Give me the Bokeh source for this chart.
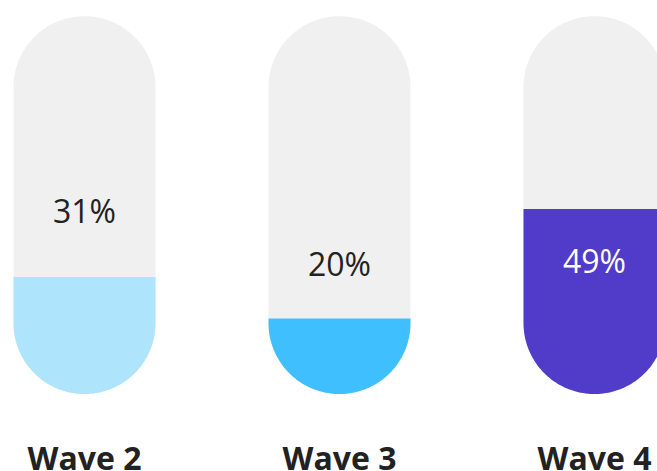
from bokeh.plotting import figure
from bokeh.models import Range1d
from bokeh.core.properties import value
from bokeh.embed import file_html
from bokeh.resources import INLINE
import numpy as np

# Survey waves and the share reported in each
waves = ["Wave 2", "Wave 3", "Wave 4"]
shares = [31, 20, 49]
colors = ["#aee5fd", "#40bfff", "#513bc9"]
label_colors = ["#222222", "#222222", "#ffffff"]

W, H = 657, 471
PX = 100 / 377.8          # data units per pixel (pill height = 100 units)
Y0 = 393.5                # pixel row of the pill bottoms
centers_px = [84.0, 339.0, 594.0]
pill_w = 142 * PX
r = pill_w / 2

p = figure(width=W, height=H, output_backend="svg", toolbar_location=None,
           x_range=Range1d(0, W * PX), y_range=Range1d(-(H - Y0) * PX, Y0 * PX),
           min_border=0)
p.axis.visible = False
p.grid.visible = False
p.outline_line_color = None
p.background_fill_color = "white"
p.border_fill_color = "white"


def capsule(cx, n=90):
    """Outline of a vertical capsule spanning 0..100 centred on cx."""
    t_top = np.linspace(0, np.pi, n)
    t_bot = np.linspace(np.pi, 2 * np.pi, n)
    xs = np.concatenate([cx + r * np.cos(t_top), cx + r * np.cos(t_bot)])
    ys = np.concatenate([100 - r + r * np.sin(t_top), r + r * np.sin(t_bot)])
    return list(xs), list(ys)


def clip_below(xs, ys, level):
    """Keep the part of a polygon lying at or below y = level."""
    out_x, out_y = [], []
    n = len(xs)
    for i in range(n):
        x1, y1 = xs[i], ys[i]
        x2, y2 = xs[(i + 1) % n], ys[(i + 1) % n]
        in1, in2 = y1 <= level, y2 <= level
        if in1:
            out_x.append(x1)
            out_y.append(y1)
        if in1 != in2:
            t = (level - y1) / (y2 - y1)
            out_x.append(x1 + t * (x2 - x1))
            out_y.append(level)
    return out_x, out_y


cxs = [c * PX for c in centers_px]
bg_x, bg_y, fg_x, fg_y = [], [], [], []
for cx, v in zip(cxs, shares):
    xs, ys = capsule(cx)
    bg_x.append(xs)
    bg_y.append(ys)
    cx_, cy_ = clip_below(xs, ys, v)
    fg_x.append(cx_)
    fg_y.append(cy_)

p.patches(bg_x, bg_y, fill_color="#f0f0f0", line_color=None)
p.patches(fg_x, fg_y, fill_color=colors, line_color=None)

# Value labels: above the fill for the shorter bars, inside for the tallest
label_mid_px = [210.2, 262.7, 260.2]
p.text(x=cxs, y=[(Y0 - yp) * PX for yp in label_mid_px],
       text=[f"{v}%" for v in shares],
       text_font=value("Open Sans"), text_font_size="32px",
       text_color=label_colors, text_align="center", text_baseline="middle")

# Wave names under each pill
p.text(x=cxs, y=[(Y0 - 457) * PX] * 3, text=waves,
       text_font=value("Open Sans"), text_font_style="bold",
       text_font_size="32px", text_color="#222222",
       text_align="center", text_baseline="middle")

open("out.html", "w").write(file_html(p, INLINE))
